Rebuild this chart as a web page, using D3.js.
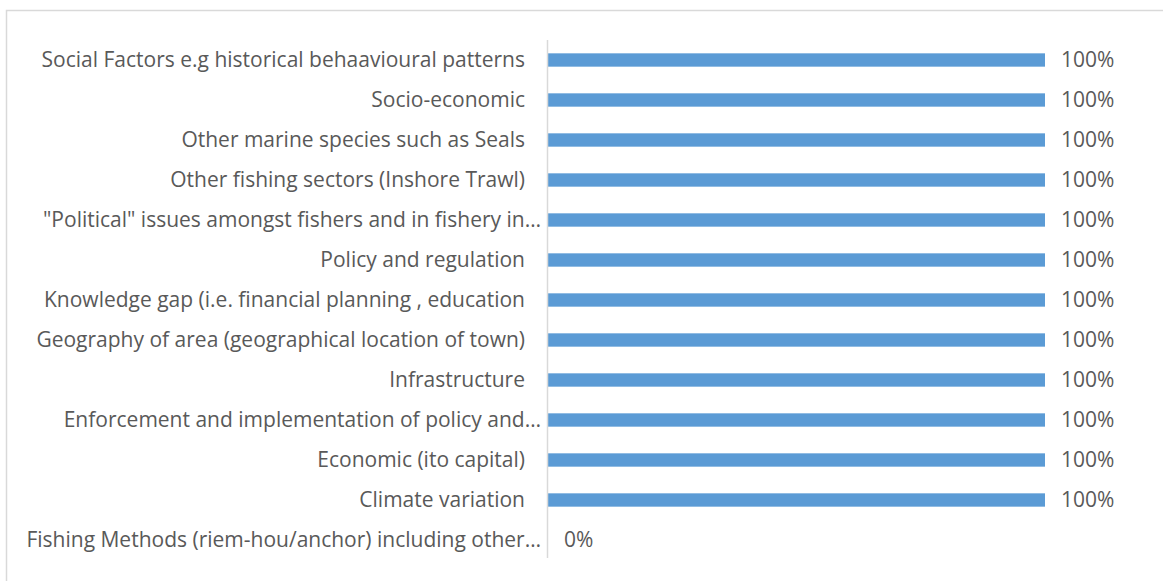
<!DOCTYPE html>
<html>
<head>
<meta charset="utf-8">
<script src="https://cdn.jsdelivr.net/npm/d3@7"></script>
<style>
  html, body { margin: 0; padding: 0; background: #fff; }
  svg { display: block; }
  text { font-family: "Open Sans", Lato, sans-serif; fill: #595959; }
</style>
</head>
<body>
<svg id="chart" width="1163" height="581"></svg>
<script>
// Categories, top to bottom
const categories = [
  "Social Factors e.g historical behaavioural patterns",
  "Socio-economic",
  "Other marine species such as Seals",
  "Other fishing sectors (Inshore Trawl)",
  "\"Political\" issues amongst fishers and in fishery in…",
  "Policy and regulation",
  "Knowledge gap (i.e. financial planning , education",
  "Geography of area (geographical location of town)",
  "Infrastructure",
  "Enforcement and implementation of policy and…",
  "Economic (ito capital)",
  "Climate variation",
  "Fishing Methods (riem-hou/anchor) including other…"
];
// Share of responses per category
const values = [1, 1, 1, 1, 1, 1, 1, 1, 1, 1, 1, 1, 0];

const svg = d3.select("#chart");
const fontSize = 21;

// chart frame (top and left edges visible)
svg.append("rect")
  .attr("x", 6.5).attr("y", 10.5)
  .attr("width", 1200).attr("height", 620)
  .attr("fill", "none").attr("stroke", "#d9d9d9").attr("stroke-width", 1.5);

const x = d3.scaleLinear().domain([0, 1]).range([548, 1045]);
const y = d3.scaleBand().domain(categories).range([40, 560]).paddingInner(2 / 3).paddingOuter(1 / 3);

// bars
svg.append("g").selectAll("rect")
  .data(categories)
  .join("rect")
  .attr("x", x(0))
  .attr("y", d => y(d))
  .attr("width", (d, i) => x(values[i]) - x(0))
  .attr("height", y.bandwidth())
  .attr("fill", "#5b9bd5");

// vertical category axis line
svg.append("line")
  .attr("x1", x(0) - 0.5).attr("x2", x(0) - 0.5)
  .attr("y1", 40).attr("y2", 558)
  .attr("stroke", "#d9d9d9").attr("stroke-width", 1.5);

// category labels
const center = d => y(d) + y.bandwidth() / 2;
svg.append("g").selectAll("text")
  .data(categories)
  .join("text")
  .attr("x", d => d.endsWith("…") ? x(0) - 7 : x(0) - 23)
  .attr("y", center)
  .attr("dy", "0.35em")
  .attr("text-anchor", "end")
  .attr("font-size", fontSize)
  .text(d => d);

// value labels
const fmt = d3.format(".0%");
svg.append("g").selectAll("text")
  .data(categories)
  .join("text")
  .attr("x", (d, i) => x(values[i]) + 16)
  .attr("y", center)
  .attr("dy", "0.35em")
  .attr("font-size", fontSize)
  .text((d, i) => fmt(values[i]));
</script>
</body>
</html>
